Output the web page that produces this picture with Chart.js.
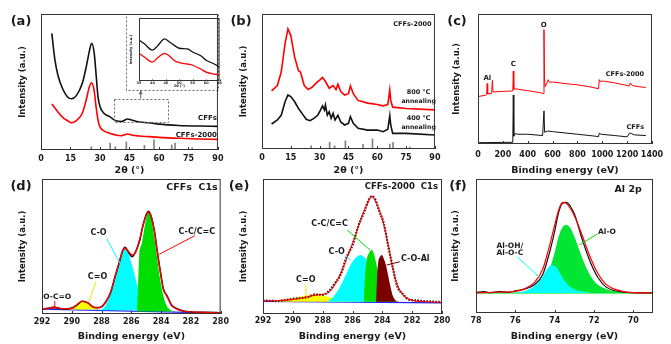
<!DOCTYPE html>
<html>
<head>
<meta charset="utf-8">
<script src="https://cdn.jsdelivr.net/npm/chart.js@4.4.1/dist/chart.umd.min.js"></script>
<style>
html, body { margin: 0; padding: 0; background: #fff; }
#wrap { position: relative; width: 671px; height: 344px; overflow: hidden; }
canvas { position: absolute; }
</style>
</head>
<body>
<div id="wrap">
  <canvas id="pa" width="228" height="176" style="left:0px;top:0px"></canvas>
  <canvas id="pb" width="215" height="176" style="left:230px;top:0px"></canvas>
  <canvas id="pc" width="226" height="176" style="left:445px;top:0px"></canvas>
  <canvas id="pd" width="232" height="168" style="left:0px;top:176px"></canvas>
  <canvas id="pe" width="225" height="168" style="left:230px;top:176px"></canvas>
  <canvas id="pf" width="226" height="168" style="left:445px;top:176px"></canvas>
  <canvas id="pin" width="94" height="76" style="left:128px;top:14px"></canvas>
</div>
<script>
// ---- (a) XRD CFFs / CFFs-2000 ----
var aX        = [5.5, 7, 8.6, 11, 13.5, 15.5, 18, 21, 23, 24.5, 25.7, 27, 28, 29, 30, 32, 35, 38, 41, 44, 46, 50, 55, 60, 70, 80, 90];
var aCFFs     = [85.8, 67, 55, 45, 39, 37.7, 40, 49, 61, 72, 78.5, 72, 56, 39, 32, 27, 24.5, 21.6, 21, 22.8, 22, 20.6, 20, 19, 18, 17.6, 17.4];
var aCFFs2000 = [33.8, 31, 28, 24, 21.6, 20, 21.6, 27, 36.8, 46, 49.5, 44, 32, 22, 17, 14, 12.3, 11, 10.5, 11.8, 11, 10.3, 9.8, 9.3, 8.6, 8.1, 7.8];
// reference sticks (Al2O3)
var refPos = [25.6, 35.2, 37.8, 43.4, 52.6, 57.5, 66.5, 68.2, 76.9];
var refInt = [2.4, 5, 2.4, 6, 3.4, 7.4, 3.7, 5, 1.5];
// inset
var inX        = [35, 37, 40, 42, 44.5, 46, 48, 50, 53, 55, 58, 60, 63, 65];
var inCFFs     = [65, 59, 49, 56, 67, 63, 57, 52, 51, 46, 40, 33, 27, 22];
var inCFFs2000 = [44, 38, 30, 37, 44, 41, 33, 29, 27, 25, 19, 14, 11, 10];

// ---- (b) XRD annealed ----
var b800X = [5, 8, 10, 12, 13.5, 15, 17, 19, 20, 22, 24, 26, 28, 30, 31.5, 33, 35, 37, 38.5, 39.5, 41, 43, 45, 46, 47.5, 50, 55, 60, 63, 65.5, 66.5, 67, 68, 75, 90];
var b800  = [43, 47, 57, 78, 89, 84, 68, 58, 57, 47, 44, 45.7, 48.6, 51, 53, 50, 45, 47, 44, 48, 42.5, 40, 41, 46.7, 41, 36, 34, 33, 32, 33, 43.7, 36, 31, 30, 29];
var b400X = [5, 8, 10, 12, 13.5, 15, 17, 19, 21, 23, 25, 27, 29, 30.5, 31.5, 32.5, 33, 34, 35, 36, 37, 38, 39.5, 41, 43, 45, 46, 47.5, 50, 55, 60, 63, 65.5, 66.5, 67, 68, 75, 90];
var b400  = [18.5, 21.5, 25, 35, 40, 38.8, 35, 30, 26, 22, 21, 22.7, 25, 29, 32, 29, 32.6, 25, 27.6, 22.7, 26.4, 21.5, 25, 20, 17.8, 19, 24, 19, 15.3, 14, 14, 12.8, 14.6, 24.7, 17.8, 11.6, 11.6, 10.4];

// ---- (c) XPS survey ----
var cRedX = [0, 60, 70, 74, 78, 110, 116, 121, 200, 280, 284, 288, 300, 400, 500, 526, 531, 535, 540, 555, 565, 575, 600, 700, 800, 900, 970, 976, 985, 1000, 1100, 1200, 1215, 1225, 1240, 1300, 1350];
var cRed  = [36.5, 37.5, 38, 46.5, 38.5, 39, 49, 40, 40.5, 40.8, 56, 42, 42.5, 41, 39.5, 38.8, 88, 50, 44, 47, 49.5, 47.5, 47.7, 46.5, 45.5, 44, 42.5, 49.5, 48, 48.5, 47, 45, 44.5, 47, 45, 44, 43.5];
var cBlackX = [0, 280, 284, 288, 300, 320, 400, 520, 531, 536, 560, 600, 700, 800, 900, 970, 976, 990, 1100, 1200, 1220, 1235, 1260, 1350];
var cBlack  = [1, 1.3, 37.7, 6, 8, 7.5, 7.5, 6.5, 25.5, 9, 10, 9.5, 8.5, 7.5, 6.5, 5.7, 8.3, 7.5, 6.5, 5.5, 8.5, 8, 7, 6.5];

// ---- (d) CFFs C1s ----
var dX    = [292, 291.5, 291.2, 290.9, 290.5, 290, 289.7, 289.3, 288.9, 288.6, 288.3, 288, 287.7, 287.4, 287.1, 286.8, 286.6, 286.43, 286.2, 285.95, 285.7, 285.45, 285.2, 285, 284.84, 284.65, 284.45, 284.25, 284.05, 283.85, 283.6, 283.3, 283, 282.5, 282, 281, 280];
var dFit  = [3.8, 4.2, 5.3, 4.3, 3.8, 4.2, 6.5, 9.6, 8, 5.5, 4.5, 5.5, 9, 16, 27, 39, 46, 48.7, 46.5, 43.7, 46, 55, 66, 73, 75.5, 72, 61, 46, 31, 19, 13, 7, 4, 2, 1.6, 1.2, 0.8];
var dData = [3.6, 4.4, 5.0, 4.5, 3.6, 4.4, 6.2, 9.4, 8.2, 5.3, 4.7, 5.3, 9.3, 15.5, 27.5, 38.5, 46.5, 49.5, 46, 42.5, 46.5, 54, 66.5, 73.5, 76, 71.5, 61.5, 45.5, 31.5, 18.5, 13.5, 6.5, 4.2, 2.2, 1.5, 1.3, 0.9];
var dCyanX  = [288.2, 287.9, 287.6, 287.3, 287.0, 286.8, 286.6, 286.43, 286.2, 286.0, 285.8, 285.6, 285.4, 285.2, 285.0, 284.7];
var dCyan   = [2.8, 4, 9, 18, 30, 39, 46, 48.5, 45, 38, 30, 21, 13, 7, 3.5, 2.2];
var dGreenX = [285.62, 285.55, 285.47, 285.3, 285.1, 284.95, 284.84, 284.7, 284.5, 284.3, 284.1, 283.9, 283.7, 283.5, 283.3, 283.0];
var dGreen  = [2, 20, 43, 52, 65, 73, 75, 72, 60, 44, 28, 16, 8, 4, 2.5, 1.9];
var dYellowX = [290.2, 289.9, 289.6, 289.3, 289.0, 288.7, 288.4, 288.1];
var dYellow  = [3.8, 5.5, 8, 9.6, 8.2, 5.8, 4, 3.3];
var dOCOX = [291.6, 291.35, 291.15, 290.95, 290.7];
var dOCO  = [3.8, 4.8, 5.2, 4.6, 3.8];
var dBaseX = [292, 280];
var dBase  = [3.6, 0.6];

// ---- (e) CFFs-2000 C1s ----
var eX    = [292, 291, 290, 289, 288.5, 288, 287.6, 287.2, 286.8, 286.4, 286, 285.6, 285.2, 284.9, 284.71, 284.5, 284.2, 283.9, 283.6, 283.3, 283, 282.6, 282.2, 282, 281, 280];
var eFit  = [9.6, 10, 10.8, 12.8, 14, 14.6, 16, 21.5, 30, 41, 52, 64.7, 77, 84, 87.4, 84.4, 77, 66, 51, 33.8, 21.5, 14, 10.9, 10.1, 9.1, 8.6];
var eData = [10, 9.6, 11.2, 12.5, 14.5, 14.2, 16.8, 22.5, 29, 42, 51, 65.5, 76, 85, 87, 85.5, 76, 67, 50, 34.5, 20.5, 14.5, 10.5, 10.3, 9.4, 8.8];
var eYellowX = [291.3, 290.8, 290.3, 289.8, 289.3, 288.8, 288.4, 288, 287.5, 287, 286.5, 286, 285.5, 285];
var eYellow  = [9.3, 10.2, 11.2, 12.3, 13.3, 14, 14, 13.5, 12.5, 11.3, 10.4, 9.8, 9.4, 9.2];
var eCyanX = [287.6, 287.3, 287.0, 286.7, 286.4, 286.1, 285.8, 285.45, 285.2, 284.9, 284.6, 284.3, 284.0, 283.7, 283.4, 283.1];
var eCyan  = [10, 12.5, 17, 23, 30, 37, 41.5, 43.7, 42, 37, 30, 22, 15.5, 11.5, 9.8, 9.2];
var eGreenX = [285.25, 285.15, 285.05, 284.9, 284.71, 284.55, 284.4, 284.2, 284.0, 283.8, 283.6, 283.3];
var eGreen  = [9.5, 30, 40, 45, 47.4, 44, 37, 28, 21, 15, 11.5, 9.5];
var eAlX = [284.42, 284.36, 284.28, 284.15, 284.04, 283.9, 283.75, 283.6, 283.45, 283.3, 283.1, 282.9];
var eAl  = [9.5, 25, 38, 42.5, 43.7, 41, 36, 28, 20, 13.5, 10, 9.2];
var eBaseX = [292, 280];
var eBase  = [9.3, 8.3];

// ---- (f) Al 2p ----
var fFitX = [78, 77, 76, 75.5, 75, 74.6, 74.3, 74.0, 73.8, 73.6, 73.4, 73.2, 73.0, 72.6, 72.2, 71.8, 71.4, 71, 70.5, 70, 69];
var fFit  = [15, 15.5, 16.2, 18.2, 23.2, 33, 48, 65.6, 76.8, 82.5, 81.8, 78, 72.6, 58, 42, 29.5, 21.5, 18, 16, 15.2, 15];
var fDataX = [78, 77.6, 77.3, 76.8, 76.4, 76, 75.5, 75, 74.6, 74.3, 74.0, 73.8, 73.6, 73.4, 73.2, 73.0, 72.6, 72.2, 71.8, 71.4, 71, 70.5, 70, 69];
var fData  = [15.2, 16, 15.2, 16, 15.4, 16.5, 18, 21.5, 29, 43, 61, 75, 82, 82.5, 79.5, 74, 55, 38.5, 26.5, 19.5, 16.8, 15.6, 15.2, 15];
var fGreenX = [75.2, 74.7, 74.5, 74.3, 74.2, 74.0, 73.8, 73.6, 73.39, 73.2, 73.0, 72.7, 72.4, 72.1, 71.8, 71.4, 71.0, 70.5, 70];
var fGreen  = [15.2, 17, 22, 30, 35, 45, 57, 64, 65.7, 63.5, 57, 45, 34, 26, 21, 18, 16.3, 15.5, 15.2];
var fCyanX = [76, 75.5, 75.2, 74.9, 74.6, 74.4, 74.15, 73.9, 73.7, 73.5, 73.3, 73.0, 72.6, 72.2];
var fCyan  = [15.3, 16.5, 18.5, 22, 27.5, 32.5, 35.7, 34, 29, 24, 20.5, 17.5, 16, 15.3];
var fBaseX = [78, 69];
var fBase  = [15, 15];

// tick labels
var xrdTicks = [0, 15, 30, 45, 60, 75, 90];
var surveyTicks = [0, 200, 400, 600, 800, 1000, 1200, 1400];
var c1sTicks = [292, 290, 288, 286, 284, 282, 280];
var al2pTicks = [78, 76, 74, 72, 70];
var insetTicks = [35, 40, 45, 50, 55, 60, 65];

Chart.defaults.font.family = "'DejaVu Sans', sans-serif";
Chart.defaults.color = '#1a1a1a';

function series(xs, ys, color, width, extra) {
    var ds = {
        type: 'line',
        data: xs.map(function (x, i) { return { x: x, y: ys[i] }; }),
        borderColor: color,
        borderWidth: width,
        pointRadius: 0,
        fill: false,
        tension: 0
    };
    return Object.assign(ds, extra || {});
}

function area(xs, ys, color, base, order) {
    return series(xs, ys, 'rgba(0,0,0,0)', 1, {
        backgroundColor: color, fill: { value: base }, order: order,
        cubicInterpolationMode: 'monotone'
    });
}

function sticks(order) {
    return {
        type: 'bar',
        data: refPos.map(function (x, i) { return { x: x, y: refInt[i] }; }),
        backgroundColor: '#808080',
        barThickness: 1,
        order: order
    };
}

// frame, inward ticks, labels, leader lines, panel letter
function deco(cfg) {
    return {
        id: 'deco',
        afterDatasetsDraw: function (chart) {
            var c = chart.ctx, a = chart.chartArea, sx = chart.scales.x, sy = chart.scales.y;
            var px = function (v) { return sx.getPixelForValue(v); };
            var py = function (v) { return sy.getPixelForValue(v); };
            c.save();
            c.lineWidth = 1;
            (cfg.boxes || []).forEach(function (b) {
                c.setLineDash([2, 2]);
                c.strokeStyle = '#666';
                var x1 = Math.round(px(b[0])) + 0.5, y1 = Math.round(py(b[3])) + 0.5;
                c.strokeRect(x1, y1, Math.round(px(b[2]) - px(b[0])), Math.round(py(b[1]) - py(b[3])));
            });
            c.setLineDash([]);
            (cfg.leaders || []).forEach(function (l) {
                c.strokeStyle = l[4];
                c.lineWidth = 1;
                c.beginPath();
                c.moveTo(px(l[0]), py(l[1]));
                c.lineTo(px(l[2]), py(l[3]));
                c.stroke();
            });
            if (cfg.arrow) {
                // small head at the top end of the connector
                var ax = px(cfg.arrow[0]), ay = py(cfg.arrow[1]);
                c.fillStyle = '#666';
                c.beginPath();
                c.moveTo(ax, ay);
                c.lineTo(ax - 2, ay + 4);
                c.lineTo(ax + 2, ay + 4);
                c.closePath();
                c.fill();
            }
            c.strokeStyle = '#333';
            c.lineWidth = 1;
            c.strokeRect(a.left + 0.5, a.top + 0.5, a.right - a.left - 1, a.bottom - a.top - 1);
            c.beginPath();
            sx.ticks.forEach(function (t) {
                var x = Math.round(px(t.value)) + 0.5;
                c.moveTo(x, a.bottom);
                c.lineTo(x, a.bottom - (cfg.tick || 3));
            });
            c.stroke();
            c.fillStyle = '#1a1a1a';
            c.textBaseline = 'middle';
            (cfg.texts || []).forEach(function (t) {
                c.font = 'bold ' + t[4] + "px 'DejaVu Sans'";
                c.textAlign = t[3];
                c.fillText(t[0], px(t[1]), py(t[2]));
            });
            if (cfg.letter) {
                c.font = "bold 13px 'DejaVu Sans'";
                c.textAlign = 'center';
                c.fillText(cfg.letter[0], cfg.letter[1], cfg.letter[2]);
            }
            c.restore();
        }
    };
}

function panel(id, p) {
    var ctx = document.getElementById(id).getContext('2d');
    return new Chart(ctx, {
        type: 'line',
        data: { datasets: p.datasets },
        options: {
            responsive: false,
            animation: false,
            events: [],
            layout: { padding: { top: p.padT, right: p.padR, left: 0, bottom: 0 } },
            plugins: { legend: { display: false }, tooltip: { enabled: false } },
            scales: {
                x: {
                    type: 'linear', min: p.min, max: p.max, reverse: !!p.reverse, offset: false,
                    grid: { display: false, drawTicks: false }, border: { display: false },
                    ticks: {
                        padding: p.tickPad, maxRotation: 0, autoSkip: false,
                        font: { size: p.tickSize || 8, weight: 'bold' },
                        callback: function (v) { return String(v); }
                    },
                    afterBuildTicks: function (s) { s.ticks = p.ticks.map(function (v) { return { value: v }; }); },
                    afterFit: function (s) { s.height = p.xH; },
                    title: {
                        display: true, text: p.xTitle,
                        font: { size: p.xtSize || 9.5, weight: 'bold' },
                        padding: { top: 0, bottom: p.xTitlePad }
                    }
                },
                y: {
                    min: 0, max: 100,
                    grid: { display: false, drawTicks: false }, border: { display: false },
                    ticks: { display: false },
                    afterFit: function (s) { s.width = p.yW; },
                    title: {
                        display: true, text: 'Intensity (a.u.)',
                        font: { size: p.ytSize || 8.5, weight: 'bold' },
                        padding: { top: p.yTitlePad, bottom: 0 }
                    }
                }
            }
        },
        plugins: [deco(p.deco)]
    });
}

var RED = '#ff0000', CYAN = '#00ffff', GREEN = '#00dd00', YEL = '#ffff00', MAROON = '#7a0000', BLUE = '#2020ff';

panel('pa', {
    min: 0, max: 90, ticks: xrdTicks, xTitle: '2θ (°)',
    yW: 41, xH: 26, padT: 14, padR: 6, yTitlePad: 18, xTitlePad: 0, tickPad: 4.5,
    datasets: [
        series(aX, aCFFs, '#111', 1.6, { order: 1, cubicInterpolationMode: 'monotone' }),
        series(aX, aCFFs2000, RED, 1.6, { order: 2, cubicInterpolationMode: 'monotone' }),
        sticks(3)
    ],
    deco: {
        letter: ['(a)', 21, 22],
        boxes: [[37, 20.6, 64.7, 37.7], [43.3, 44, 90, 100]],
        leaders: [[50.7, 37.7, 50.7, 44, '#666']],
        arrow: [50.7, 44],
        texts: [['CFFs', 89.5, 23.5, 'right', 7], ['CFFs-2000', 89.5, 11, 'right', 7]]
    }
});

panel('pin', {
    min: 35, max: 65, ticks: insetTicks, xTitle: '2θ (°)',
    yW: 11, xH: 9, padT: 4, padR: 2, yTitlePad: 1, xTitlePad: 1.4, tickPad: 0,
    tickSize: 3.5, xtSize: 3.5, ytSize: 3.5,
    datasets: [
        series(inX, inCFFs, '#111', 1.3, { order: 1, cubicInterpolationMode: 'monotone' }),
        series(inX, inCFFs2000, RED, 1.3, { order: 2, cubicInterpolationMode: 'monotone' })
    ],
    deco: { tick: 1.5 }
});

panel('pb', {
    min: 0, max: 90, ticks: xrdTicks, xTitle: '2θ (°)',
    yW: 32, xH: 27, padT: 14, padR: 6, yTitlePad: 9, xTitlePad: 0, tickPad: 4.5,
    datasets: [
        series(b800X, b800, RED, 1.6, { order: 1 }),
        series(b400X, b400, '#111', 1.6, { order: 2 }),
        sticks(3)
    ],
    deco: {
        letter: ['(b)', 11, 22],
        texts: [
            ['CFFs-2000', 78.3, 92.6, 'center', 6.5],
            ['800 ℃', 81.5, 42.2, 'center', 6.5],
            ['annealing', 81.5, 35.6, 'center', 6.2],
            ['400 ℃', 81.5, 23, 'center', 6.5],
            ['annealing', 81.5, 16.3, 'center', 6.2]
        ]
    }
});

panel('pc', {
    min: 0, max: 1400, ticks: surveyTicks, xTitle: 'Binding energy (eV)',
    yW: 33, xH: 32, padT: 14, padR: 19, yTitlePad: 7, xTitlePad: 0, tickPad: 6,
    datasets: [
        series(cRedX, cRed, RED, 1, { order: 1 }),
        series(cBlackX, cBlack, '#111', 1, { order: 2 })
    ],
    deco: {
        letter: ['(c)', 12, 22],
        texts: [
            ['Al', 75, 50.5, 'center', 7],
            ['C', 284, 61.5, 'center', 7],
            ['O', 528, 91.5, 'center', 7],
            ['CFFs-2000', 1336, 53.8, 'right', 6.5],
            ['CFFs', 1336, 13, 'right', 6.5]
        ]
    }
});

panel('pd', {
    min: 280, max: 292, reverse: true, ticks: c1sTicks, xTitle: 'Binding energy (eV)',
    yW: 42, xH: 30, padT: 3, padR: 9, yTitlePad: 18, xTitlePad: 1.3, tickPad: 3,
    datasets: [
        series(dX, dFit, RED, 1.3, { order: 1, cubicInterpolationMode: 'monotone' }),
        series(dX, dData, '#111', 1.6, { order: 2, cubicInterpolationMode: 'monotone' }),
        area(dGreenX, dGreen, GREEN, 1.9, 3),
        area(dCyanX, dCyan, CYAN, 2.8, 4),
        area(dYellowX, dYellow, YEL, 3.4, 5),
        area(dOCOX, dOCO, RED, 3.8, 6),
        series(dBaseX, dBase, BLUE, 1.3, { order: 7 })
    ],
    deco: {
        letter: ['(d)', 21, 11],
        leaders: [
            [281.74, 58, 284.13, 44.2, RED],
            [287.67, 56, 286.72, 36.8, CYAN],
            [288.37, 23.9, 288.86, 9.1, '#e8e800'],
            [291.14, 9.6, 291.14, 4.7, RED]
        ],
        texts: [
            ['CFFs  C1s', 280.2, 94, 'right', 9.5],
            ['C-C/C=C', 281.6, 60.7, 'center', 8],
            ['C-O', 288.2, 59.8, 'center', 8],
            ['C=O', 288.27, 27.2, 'center', 8],
            ['O-C=O', 290.98, 12.8, 'center', 7.5]
        ]
    }
});

panel('pe', {
    min: 280, max: 292, reverse: true, ticks: c1sTicks, xTitle: 'Binding energy (eV)',
    yW: 33, xH: 30, padT: 3, padR: 13, yTitlePad: 9, xTitlePad: 1.3, tickPad: 2,
    datasets: [
        series(eX, eFit, RED, 1.1, { order: 1, cubicInterpolationMode: 'monotone' }),
        series(eX, eData, '#111', 2.2, { order: 2, borderDash: [1.5, 1.5], cubicInterpolationMode: 'monotone' }),
        area(eAlX, eAl, MAROON, 9.1, 3),
        area(eGreenX, eGreen, GREEN, 9.1, 4),
        area(eCyanX, eCyan, CYAN, 9.1, 5),
        area(eYellowX, eYellow, YEL, 9.1, 6),
        series(eBaseX, eBase, BLUE, 1.3, { order: 7 })
    ],
    deco: {
        letter: ['(e)', 9, 11],
        leaders: [
            [286.35, 62.2, 284.83, 47.4, GREEN],
            [286.5, 43.2, 286.12, 40, CYAN],
            [282.82, 38.7, 283.71, 36.3, MAROON],
            [289.12, 22, 289.12, 13.6, '#e8e800']
        ],
        texts: [
            ['CFFs-2000  C1s', 280.27, 94, 'right', 8.5],
            ['C-C/C=C', 287.54, 66.7, 'center', 8],
            ['C-O', 287.06, 45.7, 'center', 8],
            ['C-O-Al', 281.79, 40.5, 'center', 8],
            ['C=O', 289.13, 25.2, 'center', 8]
        ]
    }
});

panel('pf', {
    min: 69, max: 78, reverse: true, ticks: al2pTicks, xTitle: 'Binding energy (eV)',
    yW: 31, xH: 31, padT: 3, padR: 18, yTitlePad: 6, xTitlePad: 1.3, tickPad: 3,
    datasets: [
        series(fFitX, fFit, RED, 1.2, { order: 1, cubicInterpolationMode: 'monotone' }),
        series(fDataX, fData, '#111', 1.2, { order: 2, cubicInterpolationMode: 'monotone' }),
        area(fCyanX, fCyan, CYAN, 15, 3),
        area(fGreenX, fGreen, '#00e632', 15, 4),
        series(fBaseX, fBase, '#33ee55', 1.5, { order: 5 })
    ],
    deco: {
        letter: ['(f)', 13, 11],
        leaders: [
            [71.83, 59, 72.75, 50.7, '#00dd00'],
            [75.9, 42, 74.75, 26.3, CYAN]
        ],
        texts: [
            ['Al 2p', 69.57, 92.5, 'right', 9.5],
            ['Al-O', 71.34, 60.7, 'center', 7.5],
            ['Al-OH/', 76.28, 50, 'center', 7.5],
            ['Al-O-C', 76.28, 45, 'center', 7.5]
        ]
    }
});
</script>
</body>
</html>
